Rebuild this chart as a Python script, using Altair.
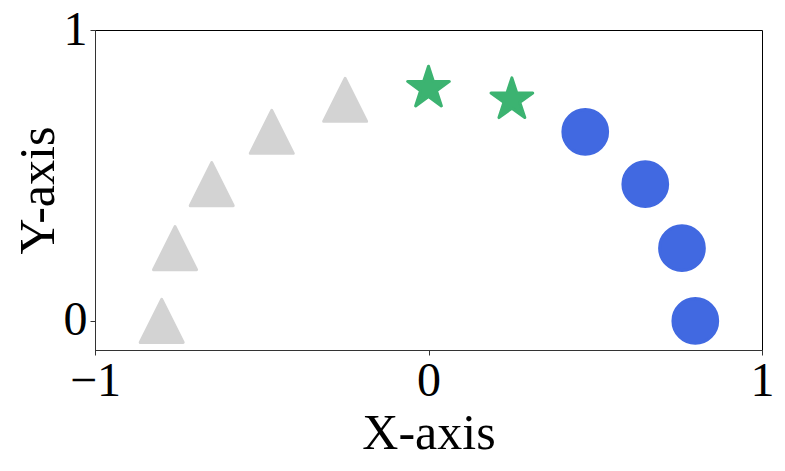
import altair as alt
import pandas as pd

groups = ["tri", "tri", "tri", "tri", "tri", "star", "star", "dot", "dot", "dot", "dot"]
xs = [-0.80, -0.76, -0.65, -0.47, -0.25, 0.0, 0.25, 0.47, 0.65, 0.76, 0.80]
ys = [0.0, 0.25, 0.47, 0.65, 0.76, 0.80, 0.76, 0.65, 0.47, 0.25, 0.0]
x_ticks = [-1, 0, 1]
y_ticks = [0, 1]

STAR = ("M0,-1L0.2245,-0.309L0.951,-0.309L0.363,0.118L0.588,0.809L0,0.382"
        "L-0.588,0.809L-0.363,0.118L-0.951,-0.309L-0.2245,-0.309Z")
TRI = "M0,-1L1,1L-1,1Z"

group_order = ["tri", "star", "dot"]
shapes = [TRI, STAR, "circle"]
colors = ["#d3d3d3", "#3cb371", "#4169e1"]
sizes = [1850, 2000, 1320]

df = pd.DataFrame({"g": groups, "x": xs, "y": ys})

FONT = "Liberation Serif"
LABEL = "datum.value < 0 ? '\u2212' + abs(round(datum.value)) : '' + round(datum.value)"

chart = alt.Chart(df).mark_point(
    filled=True, opacity=1, strokeWidth=3, strokeJoin="round"
).encode(
    x=alt.X("x:Q", scale=alt.Scale(domain=[-1, 1], nice=False, zero=False),
            axis=alt.Axis(values=x_ticks, title="X-axis", labelExpr=LABEL,
                          labelOverlap=False,
                          titleBaseline="alphabetic", titleY=98)),
    y=alt.Y("y:Q", scale=alt.Scale(domain=[-0.1, 1], nice=False, zero=False),
            axis=alt.Axis(values=y_ticks, title="Y-axis", labelExpr=LABEL,
                          labelOverlap=False,
                          titleBaseline="alphabetic", titleX=-42, titleY=160)),
    shape=alt.Shape("g:N", scale=alt.Scale(domain=group_order, range=shapes), legend=None),
    color=alt.Color("g:N", scale=alt.Scale(domain=group_order, range=colors), legend=None),
    stroke=alt.Stroke("g:N", scale=alt.Scale(domain=group_order, range=colors), legend=None),
    size=alt.Size("g:N", scale=alt.Scale(domain=group_order, range=sizes), legend=None),
).properties(
    width=667, height=320,
    autosize=alt.AutoSizeParams(type="none"),
    padding={"left": 87, "top": 22, "right": 15, "bottom": 113},
).configure_view(
    stroke="black", strokeWidth=1
).configure_axis(
    grid=False, domainColor="#333", domainWidth=1, tickColor="#333", tickSize=5,
    labelFont=FONT, titleFont=FONT, labelFontSize=48, titleFontSize=50,
    labelColor="black", titleColor="black", titleFontWeight="normal",
    labelPadding=2, labelFlush=False,
).configure_axisY(
    labelPadding=3
)

chart.save("out.html", embed_options={"renderer": "svg", "actions": False})
